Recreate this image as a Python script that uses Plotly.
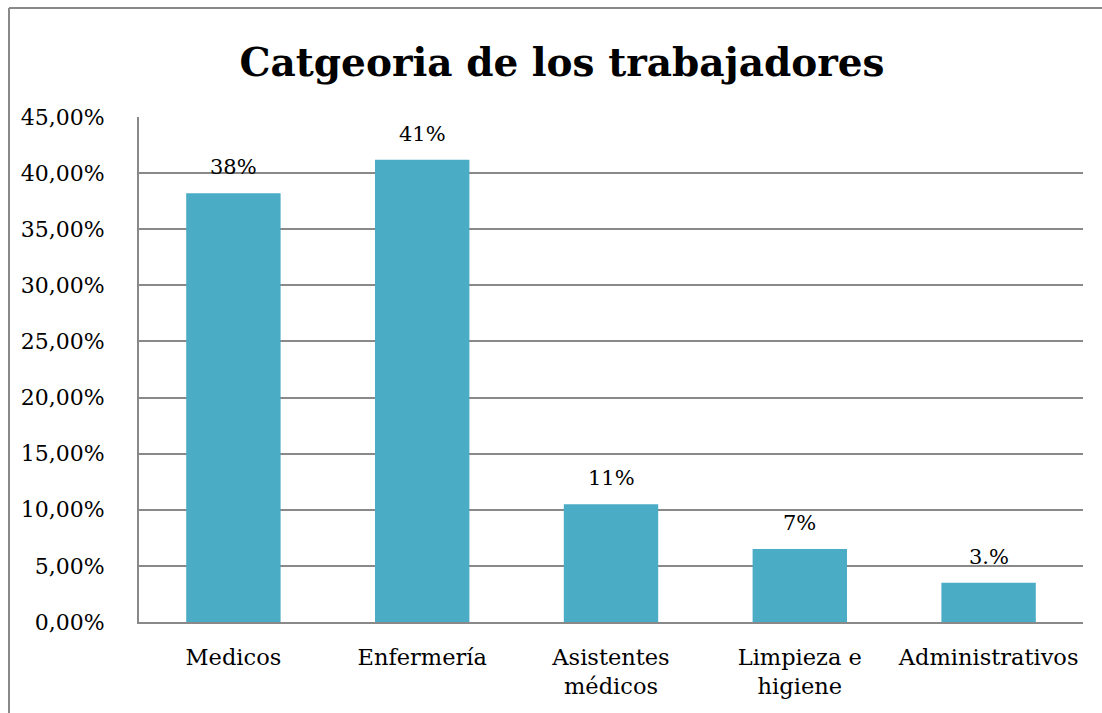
import plotly.graph_objects as go

categories = ["Medicos", "Enfermería", "Asistentes<br>médicos", "Limpieza e<br>higiene", "Administrativos"]
values = [0.382, 0.412, 0.105, 0.065, 0.035]
labels = ["38%", "41%", "11%", "7%", "3.%"]
tick_vals = [0, 0.05, 0.10, 0.15, 0.20, 0.25, 0.30, 0.35, 0.40, 0.45]

FONT = "DejaVu Serif"

fig = go.Figure(go.Bar(
    x=categories, y=values,
    marker=dict(color="#4BACC6", line=dict(width=0)),
    cliponaxis=False,
))

for c, v, t in zip(categories, values, labels):
    fig.add_annotation(x=c, y=v, text=t, showarrow=False, yanchor="bottom", yshift=12,
                       font=dict(family=FONT, size=21, color="#000000"))

fig.update_layout(
    width=1102, height=713,
    margin=dict(l=139, r=19, t=117, b=91),
    paper_bgcolor="white", plot_bgcolor="white",
    bargap=0.5,
    separators=",.",
    showlegend=False,
    title=dict(text="<b>Catgeoria de los trabajadores</b>", x=0.51, xanchor="center",
               y=0.913, yanchor="middle",
               font=dict(family=FONT, size=39, color="#000000")),
    xaxis=dict(showgrid=False, showline=True, linecolor="#898989", linewidth=2,
               ticks="", ticklabelstandoff=14,
               tickfont=dict(family=FONT, size=22.5, color="#000000")),
    yaxis=dict(range=[0, 0.45], tickvals=tick_vals, tickformat=".2%",
               showgrid=True, gridcolor="#898989", gridwidth=2,
               showline=True, linecolor="#898989", linewidth=2, mirror=False,
               zeroline=False, ticks="", ticklen=0, ticklabelstandoff=28,
               tickfont=dict(family=FONT, size=22, color="#000000")),
    shapes=[
        dict(type="line", xref="paper", yref="paper", x0=-0.1377, x1=-0.1377, y0=-0.19, y1=1.2158,
             line=dict(color="#898989", width=2)),
        dict(type="line", xref="paper", yref="paper", x0=-0.1377, x1=1.03, y0=1.2158, y1=1.2158,
             line=dict(color="#898989", width=2)),
    ],
)

fig.write_html("out.html")
